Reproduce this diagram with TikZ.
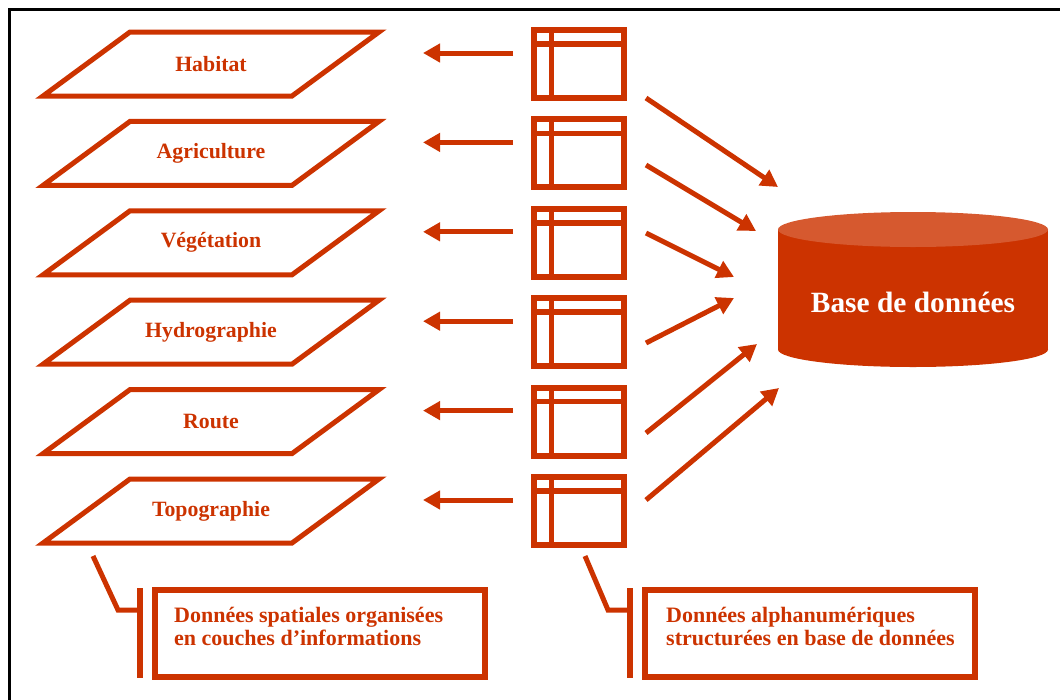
\documentclass[tikz,border=0pt]{standalone}
\usepackage{fontspec}
\setmainfont{Liberation Serif}
\usetikzlibrary{arrows.meta,calc}
\definecolor{brick}{HTML}{CC3300}
\definecolor{bricktop}{HTML}{D6592F}
\begin{document}
\begin{tikzpicture}[x=1pt,y=-1pt,
  layer/.style={draw=brick, line width=5pt, line join=miter},
  lbl/.style={text=brick, font=\bfseries\fontsize{21.8}{26}\selectfont, inner sep=0pt},
  tbl/.style={draw=brick, line width=6pt, minimum width=90pt, minimum height=68pt, outer sep=0pt, inner sep=0pt},
  divider/.style={draw=brick, line width=5.5pt},
  arr/.style={draw=brick, line width=5pt, -{Triangle[length=17pt,width=18pt]}},
  cbox/.style={draw=brick, line width=6pt, minimum width=330pt, minimum height=87pt, outer sep=0pt, inner sep=0pt},
  ctext/.style={text=brick, font=\bfseries\fontsize{22}{23}\selectfont, align=left, inner sep=0pt, anchor=west},
  lead/.style={draw=brick, line width=5pt, line join=miter},
  bar/.style={draw=brick, line width=6pt}
]
\useasboundingbox (0,0) rectangle (1060,699);
% frame
\draw[black, line width=3pt] (9,720) -- (9,9) -- (1080,9);

% layers, tables, left arrows
\foreach \t [count=\i from 0] in {Habitat,Agriculture,Végétation,Hydrographie,Route,Topographie}{
  \pgfmathsetmacro\yc{64+89.4*\i}
  \draw[layer] (130,\yc-32) -- (379,\yc-32) -- (292,\yc+32) -- (43,\yc+32) -- cycle;
  \node[lbl] (L\i) at (211,\yc) {\t};
  \node[tbl] (T\i) at (579,\yc) {};
  \draw[divider] ($(T\i.north west)+(17.5,0)$) -- ($(T\i.south west)+(17.5,0)$);
  \draw[divider] ($(T\i.north west)+(0,14)$) -- ($(T\i.north east)+(0,14)$);
  \coordinate (A\i) at ($(T\i.west)+(-111,-11)$);
  \draw[arr] ($(T\i.west)+(-21,-11)$) -- (A\i);
}

% database cylinder
\fill[brick] (778,229.5) rectangle (1048,349.5);
\fill[brick] (913,349.5) ellipse [x radius=135, y radius=17.5];
\fill[bricktop] (913,229.5) ellipse [x radius=135, y radius=17.5];
\node[text=white, font=\bfseries\fontsize{29.4}{34}\selectfont, inner sep=0pt] (db) at (913,302) {Base de données};

% arrows to database
\coordinate (D0) at (778,187);
\coordinate (D1) at (756,231);
\coordinate (D2) at (734,277);
\coordinate (D3) at (734,298);
\coordinate (D4) at (757,344);
\coordinate (D5) at (779,388);
\draw[arr] ($(T0.east)+(22,34)$) -- (D0);
\draw[arr] ($(T1.east)+(22,11.6)$) -- (D1);
\draw[arr] ($(T2.east)+(22,-9.8)$) -- (D2);
\draw[arr] ($(T3.east)+(22,10.8)$) -- (D3);
\draw[arr] ($(T4.east)+(22,11.4)$) -- (D4);
\draw[arr] ($(T5.east)+(22,-11)$) -- (D5);

% callouts
\node[cbox] (C1) at (320,633.5) {};
\node[ctext] (C1t) at (174,626.5) {Données spatiales organisées\\en couches d’informations};
\coordinate (K1) at (93,556);
\coordinate (B1) at (140,610);
\draw[bar] (140,588) -- (140,678);
\draw[lead] (K1) -- (118,610) -- (B1);

\node[cbox] (C2) at (810,633.5) {};
\node[ctext] (C2t) at (666,626.5) {Données alphanumériques\\structurées en base de données};
\coordinate (K2) at (585,556);
\coordinate (B2) at (630,610);
\draw[bar] (630,588) -- (630,678);
\draw[lead] (K2) -- (608,610) -- (B2);
\end{tikzpicture}
\end{document}
